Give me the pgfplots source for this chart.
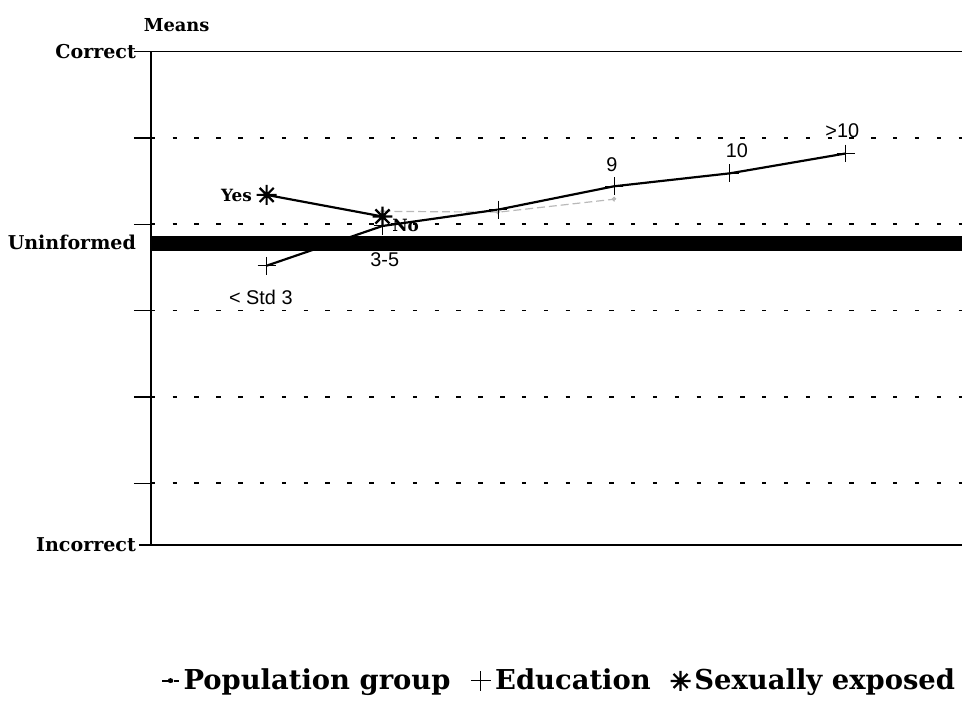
\documentclass[border=0pt]{standalone}
\usepackage{fontspec}
\setmainfont{DejaVu Serif}
\newfontfamily\lsans{Liberation Sans}
\usepackage{pgfplots}
\pgfplotsset{compat=1.18}

% eight-armed star as in the scanned chart
\pgfdeclareplotmark{star8}{%
  \pgfpathmoveto{\pgfqpoint{0pt}{\pgfplotmarksize}}%
  \pgfpathlineto{\pgfqpoint{0pt}{-\pgfplotmarksize}}%
  \pgfpathmoveto{\pgfqpoint{\pgfplotmarksize}{0pt}}%
  \pgfpathlineto{\pgfqpoint{-\pgfplotmarksize}{0pt}}%
  \pgfpathmoveto{\pgfqpoint{0.707\pgfplotmarksize}{0.707\pgfplotmarksize}}%
  \pgfpathlineto{\pgfqpoint{-0.707\pgfplotmarksize}{-0.707\pgfplotmarksize}}%
  \pgfpathmoveto{\pgfqpoint{-0.707\pgfplotmarksize}{0.707\pgfplotmarksize}}%
  \pgfpathlineto{\pgfqpoint{0.707\pgfplotmarksize}{-0.707\pgfplotmarksize}}%
  \pgfusepathqstroke}

\begin{document}
\begin{tikzpicture}
% page frame: reference pixel (px,py) sits at ((px-152)/2 pt, (549-py)/2 pt)
\path (-76pt,-75.5pt) rectangle (408.5pt,274.5pt);
\node[font=\bfseries\fontsize{9}{11}\selectfont] at (13pt,262pt) {Means};
\begin{axis}[
    at={(0pt,0pt)}, anchor=south west,
    scale only axis, width=408.5pt, height=248.5pt,
    xmin=0, xmax=7, ymin=-0.713, ymax=5,
    axis x line*=bottom, axis y line*=left,
    axis line style={line width=0.8pt},
    xtick=\empty,
    ytick={0,1,2,3,4},
    yticklabels={,,,,},
    ymajorgrids,
    grid style={black, dash pattern=on 2.2pt off 8.8pt, line width=0.8pt},
    extra y ticks={-0.713,2.79,5},
    extra y tick labels={Incorrect,Uninformed,Correct},
    extra y tick style={grid=none, major tick length=0pt},
    tick align=outside, major tick length=8.5pt,
    tick style={black, line width=0.7pt},
    yticklabel style={font=\bfseries\fontsize{9.6}{11}\selectfont, xshift=-4pt},
    clip=false,
    legend style={at={(0.505,-0.276)}, anchor=center, draw=none,
      legend columns=-1, font=\bfseries\fontsize{13.8}{16}\selectfont,
      /tikz/every even column/.append style={column sep=8pt}},
  ]

  % Population group (faint in the scan)
  \addplot[gray!55, line width=0.6pt, dash pattern=on 4pt off 2pt,
    mark=*, mark size=0.9pt,
    legend image code/.code={
      \draw[black, line width=0.6pt] (0cm,0cm) -- (0.3cm,0cm);
      \fill[black] (0.15cm,0cm) circle (1.1pt);}]
    coordinates {(2,3.15) (3,3.14) (4,3.29)};
  \addlegendentry{Population group}

  % Education
  \addplot[black, line width=1.1pt, mark=+, mark size=4.5pt,
    mark options={line width=0.5pt},
    legend image code/.code={
      \draw[black, line width=0.5pt] (0.15cm,-5pt) -- (0.15cm,5pt)
        (0.15cm,0cm) ++(-5pt,0pt) -- ++(10pt,0pt);}]
    coordinates {(1,2.52) (2,2.98) (3,3.17) (4,3.44) (5,3.59) (6,3.82)};
  \addlegendentry{Education}

  % Sexually exposed
  \addplot[black, line width=1.1pt, mark=star8, mark size=5pt,
    mark options={line width=1.1pt},
    legend image code/.code={
      \draw[black, line width=1pt, mark=star8, mark size=5pt, only marks]
        plot coordinates {(0.15cm,0cm)};}]
    coordinates {(1,3.34) (2,3.09)};
  \addlegendentry{Sexually exposed}

  % "Uninformed" reference bar
  \draw[line width=7.5pt] (axis cs:0,2.78) -- (axis cs:7,2.78);
  % top border, running past the axis like a tick
  \draw[line width=0.8pt] ([xshift=-8.5pt]rel axis cs:0,1) -- (rel axis cs:1,1);
  \draw[line width=0.8pt] ([xshift=-6pt]rel axis cs:0,0) -- (rel axis cs:0,0);

  \begin{scope}[font=\lsans\fontsize{10}{12}\selectfont]
    \node at (axis cs:0.95,2.15) {< Std 3};
    \node at (axis cs:2.02,2.59) {3-5};
    \node at (axis cs:3.98,3.69) {9};
    \node at (axis cs:5.06,3.85) {10};
    \node at (axis cs:5.97,4.08) {>10};
  \end{scope}
  \begin{scope}[font=\bfseries\fontsize{8.5}{10}\selectfont]
    \node at (axis cs:0.74,3.33) {Yes};
    \node at (axis cs:2.2,2.99) {No};
  \end{scope}
\end{axis}
\end{tikzpicture}
\end{document}
